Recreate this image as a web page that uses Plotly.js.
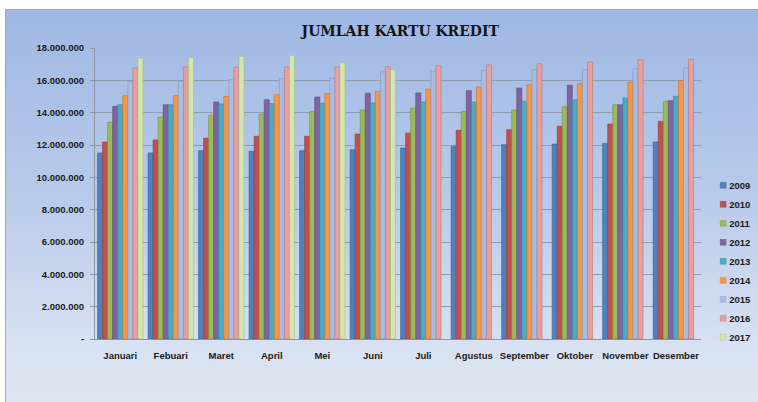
<!DOCTYPE html>
<html>
<head>
<meta charset="utf-8">
<script src="https://cdn.plot.ly/plotly-3.0.1.min.js"></script>
<style>
  html, body { margin: 0; padding: 0; background: #ffffff; }
  #wrap { position: relative; width: 758px; height: 402px; overflow: hidden; }
  #frame { position: absolute; left: 5px; top: 9px; width: 760px; height: 400px;
           border: 1px solid #a3a8b0;
           background: linear-gradient(to bottom, #9fb8e4 0%, #b7caea 45%, #d9e2f2 85%, #dfe6f3 100%); }
  #chart { position: absolute; left: 0; top: 0; width: 758px; height: 402px; }
</style>
</head>
<body>
<div id="wrap">
  <div id="frame"></div>
  <div id="chart"></div>
</div>
<script>
const months = ["Januari","Febuari","Maret","April","Mei","Juni","Juli","Agustus","September","Oktober","November","Desember"];
const years = ["2009","2010","2011","2012","2013","2014","2015","2016","2017"];

const v2009 = [11510000,11510000,11650000,11610000,11650000,11710000,11810000,11920000,12020000,12060000,12100000,12190000];
const v2010 = [12190000,12310000,12430000,12540000,12540000,12680000,12740000,12910000,12950000,13160000,13300000,13460000];
const v2011 = [13400000,13730000,13840000,13920000,14080000,14160000,14290000,14080000,14160000,14370000,14490000,14700000];
const v2012 = [14390000,14490000,14660000,14800000,14970000,15200000,15220000,15360000,15530000,15690000,14490000,14740000];
const v2013 = [14490000,14490000,14540000,14560000,14580000,14600000,14660000,14660000,14700000,14800000,14910000,15010000];
const v2014 = [15050000,15070000,15010000,15110000,15180000,15320000,15460000,15590000,15730000,15810000,15880000,15980000];
const v2015 = [15940000,15940000,16040000,16100000,16140000,16520000,16560000,16620000,16660000,16660000,16720000,16760000];
const v2016 = [16760000,16820000,16800000,16820000,16820000,16850000,16910000,16950000,17030000,17130000,17260000,17300000];
const v2017 = [17380000,17420000,17480000,17550000,17070000,16660000,null,null,null,null,null,null];

const tickValues = [0,2000000,4000000,6000000,8000000,10000000,12000000,14000000,16000000,18000000];
const tickLabels = ["-","2.000.000","4.000.000","6.000.000","8.000.000","10.000.000","12.000.000","14.000.000","16.000.000","18.000.000"];

const seriesValues = [v2009,v2010,v2011,v2012,v2013,v2014,v2015,v2016,v2017];
const colors = ["#4f81bd","#c0504d","#9bbb59","#8064a2","#4bacc6","#f79646","#a9bde2","#e6a09f","#d4e5ad"];
const edges  = ["#3a6496","#983a38","#76923f","#5f4a7d","#338aa0","#c8742d","#8598bd","#bb7877","#a9ba86"];

const traces = seriesValues.map((vals, i) => ({
  type: "bar",
  name: years[i],
  x: months,
  y: vals,
  marker: { color: colors[i], line: { color: edges[i], width: 0.6 } },
  hoverinfo: "x+y+name"
}));

const tickFont = { family: "Liberation Sans Narrow, Liberation Sans, Arial", size: 9.5, color: "#1a1a1a", weight: "bold" };

const layout = {
  width: 758,
  height: 402,
  paper_bgcolor: "rgba(0,0,0,0)",
  plot_bgcolor: "rgba(0,0,0,0)",
  separators: ",.",
  margin: { l: 95, r: 55, t: 48, b: 63, pad: 0 },
  title: {
    text: "<b>JUMLAH KARTU KREDIT</b>",
    font: { family: "DejaVu Serif Condensed, Liberation Serif, serif", size: 15.5, color: "#141414" },
    x: 0.528, xanchor: "center",
    y: 0.925, yanchor: "middle", yref: "container"
  },
  barmode: "group",
  bargap: 0.1,
  bargroupgap: 0,
  xaxis: {
    type: "category",
    tickfont: tickFont,
    showline: true, linecolor: "#8c95a3", linewidth: 1,
    ticks: "", showgrid: false,
    ticklabelstandoff: 8
  },
  yaxis: {
    range: [0, 18000000],
    tickvals: tickValues,
    ticktext: tickLabels,
    tickfont: tickFont,
    showline: true, linecolor: "#8c95a3", linewidth: 1,
    gridcolor: "#8d9cb3", gridwidth: 1,
    zeroline: false,
    ticks: "outside", ticklen: 4, tickcolor: "#8c95a3",
    ticklabelstandoff: 4
  },
  legend: {
    xref: "container", yref: "container",
    x: 0.925, y: 0.575, xanchor: "left", yanchor: "top",
    font: { family: "Liberation Sans Narrow, Liberation Sans, Arial", size: 9.5, color: "#1a1a1a", weight: "bold" },
    bgcolor: "rgba(0,0,0,0)",
    itemwidth: 30,
    tracegroupgap: 0
  },
  showlegend: true
};

Plotly.newPlot("chart", traces, layout, { displayModeBar: false, staticPlot: true }).then(gd => {
  gd.querySelectorAll(".legendpoints path").forEach(p => p.setAttribute("transform", "translate(22,0) scale(0.5)"));
  gd.querySelectorAll(".legendtext").forEach(t => t.setAttribute("x", "28"));
});
</script>
</body>
</html>
